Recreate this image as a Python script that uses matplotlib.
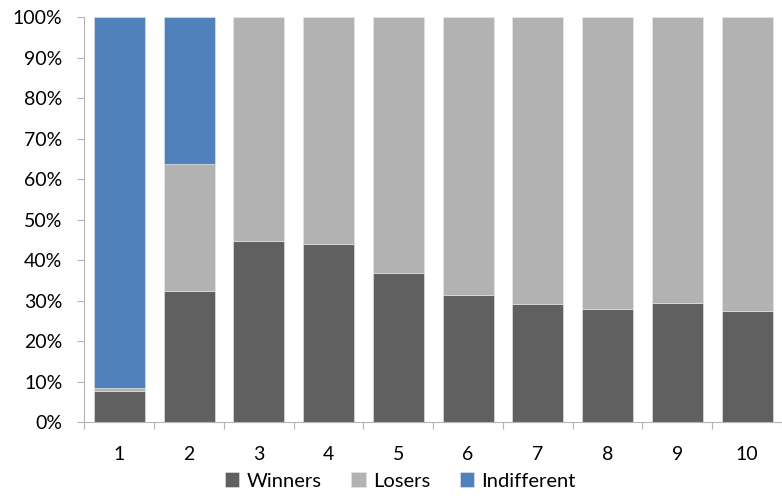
import matplotlib.pyplot as plt
import numpy as np
from matplotlib.ticker import FixedLocator, PercentFormatter

plt.rcParams['font.family'] = ['Lato', 'DejaVu Sans']

# Shares per group, in percent
groups = ['1', '2', '3', '4', '5', '6', '7', '8', '9', '10']
winners = [7.7, 32.4, 44.7, 44.0, 36.9, 31.3, 29.2, 27.9, 29.4, 27.5]
losers = [0.7, 31.4, 55.3, 56.0, 63.1, 68.7, 70.8, 72.1, 70.6, 72.5]
indifferent = [91.6, 36.2, 0, 0, 0, 0, 0, 0, 0, 0]

colors = ['#606060', '#b2b2b2', '#4f81bd']
axis_col = '#b4b4b4'
fs = 14

fig = plt.figure(figsize=(7.82, 4.99), dpi=100)
ax = fig.add_axes([0.108, 0.154, 0.892, 0.811])

x = np.arange(len(groups))
w = 0.73
bottom = np.zeros(len(groups))
for vals, col, name in zip([winners, losers, indifferent], colors,
                           ['Winners', 'Losers', 'Indifferent']):
    ax.bar(x, vals, w, bottom=bottom, color=col, label=name,
           edgecolor='#e8e8e8', linewidth=0.4)
    bottom += np.array(vals)

ax.set_xlim(-0.5, len(groups) - 0.5)
ax.set_ylim(0, 100)
ax.set_yticks(np.arange(0, 101, 10))
ax.yaxis.set_major_formatter(PercentFormatter(decimals=0))

# category boundaries get the tick marks, labels sit between them
ax.xaxis.set_major_locator(FixedLocator(np.arange(-0.5, len(groups), 1)))
ax.xaxis.set_minor_locator(FixedLocator(x))
ax.set_xticklabels([])
ax.set_xticklabels(groups, minor=True)
ax.tick_params(axis='x', which='major', length=5, color=axis_col)
ax.tick_params(axis='x', which='minor', length=0, pad=17, labelsize=fs)
ax.tick_params(axis='y', length=5, color=axis_col, pad=11, labelsize=fs)

for s in ['top', 'right']:
    ax.spines[s].set_visible(False)
for s in ['left', 'bottom']:
    ax.spines[s].set_color(axis_col)

fig.legend(loc='center', bbox_to_anchor=(0.512, 0.036), ncol=3, frameon=False,
           fontsize=14.5, handlelength=0.7, handleheight=0.7, handletextpad=0.35,
           columnspacing=1.5)

fig.savefig('out.png', dpi=100)
